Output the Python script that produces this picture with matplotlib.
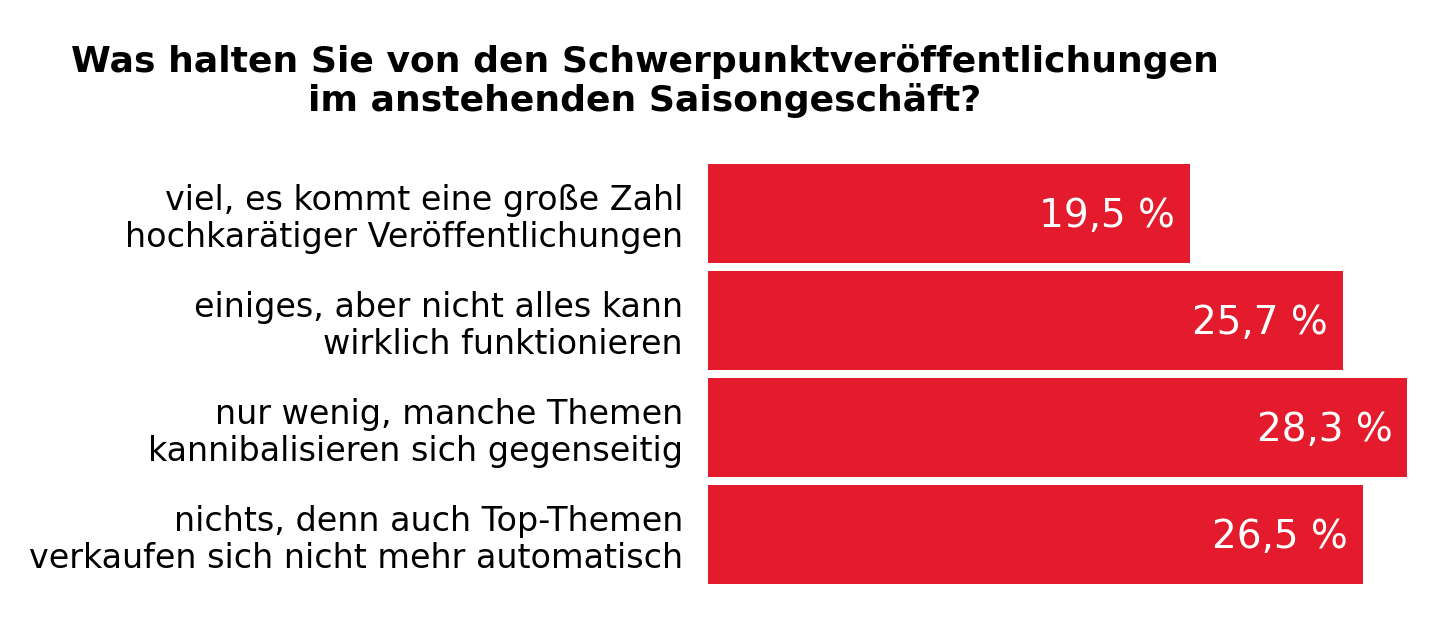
import matplotlib
matplotlib.use("Agg")
import matplotlib.pyplot as plt

categories = ["viel, es kommt eine große Zahl\nhochkarätiger Veröffentlichungen",
              "einiges, aber nicht alles kann\nwirklich funktionieren",
              "nur wenig, manche Themen\nkannibalisieren sich gegenseitig",
              "nichts, denn auch Top-Themen\nverkaufen sich nicht mehr automatisch"]
values = [19.5, 25.7, 28.3, 26.5]
value_labels = ["19,5 %", "25,7 %", "28,3 %", "26,5 %"]

plt.rcParams['font.family'] = ['Liberation Sans Narrow', 'DejaVu Sans']
fig = plt.figure(figsize=(14.4, 6.23), dpi=100)
ax = fig.add_axes([0.4917, 0.056, 0.4889, 0.687])
y = list(range(len(values)))
ax.barh(y, values, height=0.93, color="#e31b2c")
ax.set_ylim(3.5, -0.5)
ax.set_xlim(0, 28.5)
for yi, v, lab in zip(y, values, value_labels):
    ax.text(v - 0.6, yi + 0.02, lab, color="white", fontsize=28, ha="right", va="center")
ax.set_yticks(y)
ax.set_yticklabels(categories, fontsize=24, linespacing=1.15)
ax.tick_params(axis="y", length=0, pad=18)
ax.set_xticks([])
for s in ax.spines.values():
    s.set_visible(False)
fig.text(0.448, 0.87, "Was halten Sie von den Schwerpunktveröffentlichungen\nim anstehenden Saisongeschäft?",
         ha="center", va="center", fontsize=26, fontweight="bold", linespacing=1.15)
fig.savefig("out.png", dpi=100, facecolor="white")
